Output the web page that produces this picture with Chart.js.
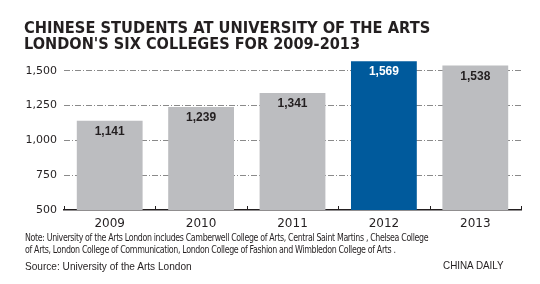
<!DOCTYPE html>
<html>
<head>
<meta charset="utf-8">
<script src="https://cdn.jsdelivr.net/npm/chart.js@4"></script>
<style>
    body { margin: 0; background: #fff; }
    #wrap { position: relative; width: 540px; height: 284px; overflow: hidden; font-family: "Liberation Sans", Arial, sans-serif; color: #231f20; }
    #chart { position: absolute; left: 0; top: 0; }
    .txt { position: absolute; white-space: nowrap; transform-origin: 0 0; }
    .title { left: 24px; font-family: "DejaVu Sans", sans-serif; font-weight: bold; font-size: 15px; line-height: 16px; }
    .note { left: 25px; font-family: "Liberation Sans Narrow", "DejaVu Sans Condensed", sans-serif; font-size: 10px; letter-spacing: -0.4px; }
    .src { font-size: 11px; }
</style>
</head>
<body>
<div id="wrap">
    <canvas id="chart" width="540" height="284"></canvas>
    <div class="txt title" style="top:20px" data-w="406">CHINESE STUDENTS AT UNIVERSITY OF THE ARTS</div>
    <div class="txt title" style="top:36px" data-w="336">LONDON'S SIX COLLEGES FOR 2009-2013</div>
    <div class="txt note" style="top:232px" data-w="403">Note: University of the Arts London includes Camberwell College of Arts, Central Saint Martins , Chelsea College</div>
    <div class="txt note" style="top:244px" data-w="371">of Arts, London College of Communication, London College of Fashion and Wimbledon College of Arts .</div>
    <div class="txt src" style="left:25px;top:260px" data-w="167">Source: University of the Arts London</div>
    <div class="txt src" style="left:443px;top:259px" data-w="61">CHINA DAILY</div>
</div>
<script>
var years = ['2009', '2010', '2011', '2012', '2013'];
var students = [1141, 1239, 1341, 1569, 1538];
var highlightYear = '2012';
var yTicks = [500, 750, 1000, 1250, 1500];

// 텍스트 폭 맞추기
document.querySelectorAll('.txt').forEach(function (el) {
    var w = +el.getAttribute('data-w');
    var s = w / el.offsetWidth;
    el.style.transform = 'scaleX(' + s + ')';
});

var barColors = years.map(function (y) {
    return y == highlightYear ? '#005a9c' : '#bcbdc0';
});

var valueLabels = {
    id: 'valueLabels',
    afterDatasetsDraw: function (chart) {
        var ctx = chart.ctx;
        var meta = chart.getDatasetMeta(0);
        ctx.save();
        ctx.font = 'bold 12px "Liberation Sans", Arial, sans-serif';
        ctx.textAlign = 'center';
        ctx.textBaseline = 'middle';
        meta.data.forEach(function (bar, i) {
            ctx.fillStyle = years[i] == highlightYear ? '#fff' : '#231f20';
            ctx.fillText(students[i].toLocaleString('en-US'), bar.x, bar.y + 11);
        });
        ctx.restore();
    }
};

// x축 위쪽 눈금
var axisTicks = {
    id: 'axisTicks',
    afterDraw: function (chart) {
        var ctx = chart.ctx;
        var area = chart.chartArea;
        var step = (area.right - area.left) / years.length;
        ctx.save();
        ctx.strokeStyle = '#231f20';
        ctx.lineWidth = 1;
        for (var i = 0; i <= years.length; i++) {
            var x = Math.round(area.left + step * i) + 0.5;
            ctx.beginPath();
            ctx.moveTo(x, area.bottom);
            ctx.lineTo(x, area.bottom - 4);
            ctx.stroke();
        }
        ctx.restore();
    }
};

new Chart(document.getElementById('chart'), {
    type: 'bar',
    data: {
        labels: years,
        datasets: [{
            data: students,
            backgroundColor: barColors,
            categoryPercentage: 1,
            barPercentage: 0.72
        }]
    },
    plugins: [valueLabels, axisTicks],
    options: {
        responsive: false,
        animation: false,
        layout: { padding: { top: 61, bottom: 52, left: 0, right: 19 } },
        plugins: { legend: { display: false }, tooltip: { enabled: false } },
        scales: {
            x: {
                grid: { display: false, drawTicks: false },
                border: { display: true, color: '#231f20', width: 1.5 },
                ticks: { color: '#231f20', padding: 7, font: { family: 'DejaVu Sans', size: 12 } },
                afterFit: function (scale) { scale.height = 22; }
            },
            y: {
                min: 500,
                max: 1570,
                afterBuildTicks: function (scale) {
                    scale.ticks = yTicks.map(function (v) { return { value: v }; });
                },
                grid: {
                    drawTicks: false,
                    color: function (c) { return c.tick && c.tick.value == 500 ? 'rgba(0,0,0,0)' : '#8a8a8a'; },
                    lineWidth: 1
                },
                border: { display: false, dash: [6, 2, 1, 2] },
                ticks: {
                    color: '#231f20',
                    padding: 7,
                    font: { family: 'DejaVu Sans', size: 11 },
                    callback: function (v) { return v.toLocaleString('en-US'); }
                },
                afterFit: function (scale) { scale.width = 64; }
            }
        }
    }
});
</script>
</body>
</html>
